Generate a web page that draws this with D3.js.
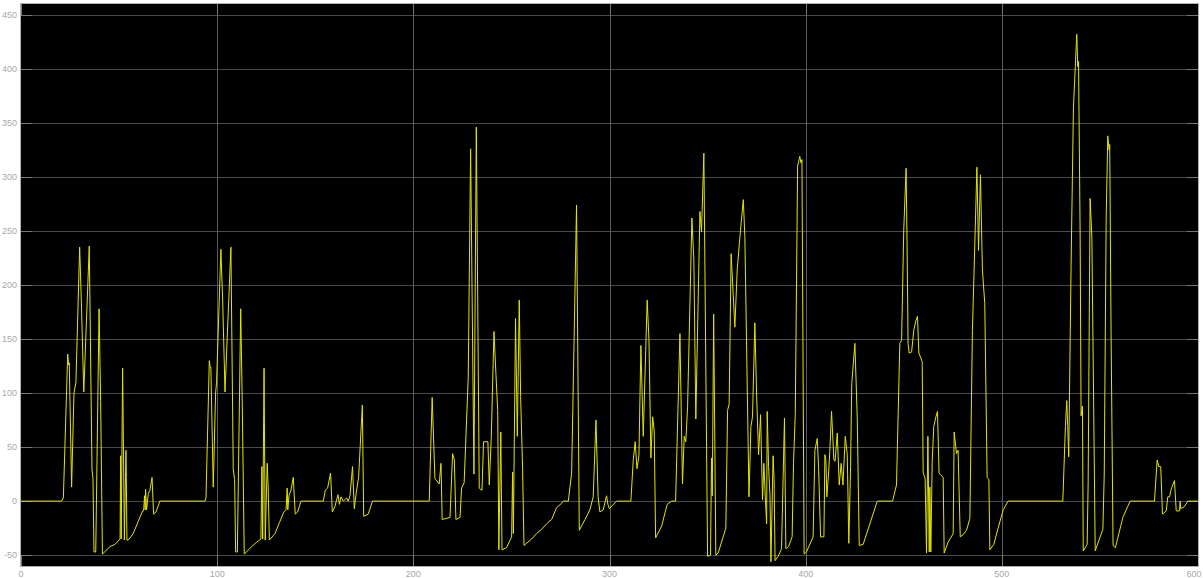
<!DOCTYPE html>
<html>
<head>
<meta charset="utf-8">
<script src="https://cdn.jsdelivr.net/npm/d3@7/dist/d3.min.js"></script>
<style>
  html, body { margin: 0; padding: 0; background: #ffffff; }
  svg { display: block; }
</style>
</head>
<body>
<svg id="chart" width="1203" height="578"></svg>
<script>
// Axis tick values
const xTicks = [0, 100, 200, 300, 400, 500, 600];
const yTicks = [-50, 0, 50, 100, 150, 200, 250, 300, 350, 400, 450];

// Recorded signal: [time, value]
const signal = [
  [0,0],[20.7,0],[21.6,3],[23.8,136],[24.3,126],[24.6,128],[25.8,13],[27,100],[28,110],[29.9,235],[30.7,189],[32,101],[34.8,236],[36.2,29],[36.7,21],[37.2,-47],[38.1,-47],[39.8,178],[40.6,93],[41.5,-49],[45.4,-42],[47.9,-40],[50.5,-35],[50.8,42],[51.1,-35],[51.8,123],[52.7,-36],[53.5,47],[53.7,22],[54,-36],[54.7,-36],[57.2,-30],[59.7,-19],[62,-9],[62.5,-9],[63.0,5],[63.3,-8],[63.5,11],[64,-8],[64.9,7],[65.7,10],[66.8,22],[67.6,-12],[68.8,-10],[70.8,0],
  [93.8,0],[94.3,3],[96,130],[96.4,124],[96.8,124],[98,13],[99.2,100],[99.7,110],[101.9,233],[102.8,186],[104,101],[107,235],[108.2,29],[108.9,20],[109.4,-47],[110.3,-47],[112,178],[112.8,90],[113.8,-49],[117.6,-42],[120.1,-38],[122.3,-35],[122.8,32],[123.2,-35],[123.9,123],[124.5,-36],[125.5,35],[126,13],[126.6,-36],[129.5,-30],[131.7,-20],[134,-10],[135.1,-8],[135.7,12],[136,-8],[136.6,5],[137.6,10],[138.8,22],[139.8,-12],[141,-10],[142.7,0],
  [154.1,0],[155.1,10],[156.3,12],[157.8,26],[158.7,-10],[160,-5],[161.6,6],[162.3,-3],[163.1,4],[164.3,0],[166,3],[166.8,0],[167.7,5],[169,32],[169.9,-7],[170.9,8],[172.1,22],[174,89],[174.7,-14],[177,-12],[179.2,0],
  [208.1,0],[209.6,96],[211,21],[213.2,16],[214.1,35],[214.7,-17],[218.7,-15],[220,44],[220.9,38],[221.7,-17],[223.8,-15],[224.6,12],[225.9,17],[228,115],[229.2,326],[230.9,25],[232.1,346],[233.6,12],[235,10],[235.8,55],[238,55],[238.7,15],[239.7,57],[241.1,157],[242.1,118],[243,84],[243.6,-45],[244.6,64],[245.2,-45],[247.5,-43],[250.1,-33],[250.6,27],[251,-30],[252.1,169],[253,60],[254,186],[254.7,97],[255.7,29],[256.4,-41],[260.3,-35],[262.8,-30],[265.4,-26],[267.9,-21],[270.5,-17],[273,-6],[275.6,-2],[276.4,0],[279,0],[280.7,26],[283.2,274],[284.6,-27],[287.5,-17],[290,-8],[291.7,4],[293.1,75],[294.2,4],[295.1,-10],[296.8,-8],[298.5,5],[299.2,-3],[299.9,-7],[303.6,0],
  [310.9,0],[312.1,38],[313.1,55],[314,30],[315,42],[316,144],[317.2,60],[319.2,186],[320.1,150],[321.1,40],[322,78],[322.8,65],[323.5,-34],[326.6,-23],[329.4,-3],[331.6,0],[333.7,0],[335.9,155],[337.2,16],[338.1,60],[338.9,55],[339.8,87],[342,262],[343,223],[344,76],[346.1,268],[346.9,249],[348.1,322],[350,-51],[351.5,-50],[352,40],[352.4,5],[353.1,173],[354.2,-50],[355.4,-48],[359.3,-25],[360.2,84],[361,90],[362,229],[363.9,161],[365.1,214],[366.5,245],[368.2,279],[369,245],[371.1,4],[372.1,69],[372.9,78],[374.1,165],[375,97],[376,43],[377,80],[378,1],[378.7,35],[379.4,4],[380.1,-21],[380.4,83],[381.1,32],[381.8,6],[382.3,-56],[383.4,42],[383.9,20],[384.4,-55],[386,-51],[387.7,-44],[388.5,21],[389.2,77],[389.9,-44],[391.3,-42],[393.1,-33],[393.8,35],[394.7,81],[395.9,310],[397,319],[397.6,313],[398.1,316],[399.2,-49],
  [400.4,-47],[403.8,-33],[404.7,47],[405.9,58],[406.6,30],[407.6,-33],[409.3,-33],[409.8,43],[410.3,38],[410.8,4],[411.7,26],[412.3,46],[413.2,83],[414.4,38],[415,37],[416.1,63],[417.1,15],[418.1,35],[419,15],[420.2,60],[421.2,43],[422,-39],[422.9,32],[423.5,109],[425.1,146],[426.3,77],[427.3,-41],[429.3,-40],[436.5,0],
  [444.3,0],[446.3,15],[448,146],[448.9,149],[450,251],[451.2,308],[451.7,236],[452.2,146],[452.8,137],[454,138],[455.1,158],[456.2,167],[457,171],[457.7,137],[458.4,134],[459.4,129],[459.9,26],[460.9,21],[461.6,-48],[462.3,60],[463,-47],[463.3,13],[463.8,-47],[464.5,37],[465.3,69],[466.4,78],[467.2,83],[468,26],[468.9,24],[470.1,22],[470.6,-48],[472.6,-38],[475.2,-30],[475.7,64],[476.9,44],[477.7,47],[478.8,-33],[480.3,-31],[482,-27],[483.7,-16],[485,158],[486.2,236],[487.3,309],[488.1,232],[489.1,302],[490.1,214],[491.3,183],[492.5,22],[493.4,20],[493.9,-45],[495.9,-40],[498.1,-25],[500.7,-8],[503.2,0],
  [531.1,0],[532.4,69],[533.1,93],[533.6,69],[534.1,41],[535.3,218],[536.5,364],[538.2,432],[538.7,402],[539.1,407],[539.9,250],[540.4,79],[541.1,88],[541.5,-46],[543.5,-40],[544,17],[545,280],[545.9,244],[547.6,-46],[551.5,-26],[552.2,24],[553.2,263],[554,338],[554.7,325],[555,330],[555.7,153],[556.7,-41],[557.9,-43],[561.7,-15],[565.4,0],
  [577.8,0],[579.2,38],[580,32],[581,32],[581.9,-12],[583.8,-9],[584.6,4],[585.5,4],[586.3,11],[588,19],[588.9,-9],[590.6,-9],[590.9,0],[591.2,-7],[593.1,-5],[594.8,0],[600,0]
];

const svg = d3.select("#chart");
const width = 1203;
const plot = { left: 21, right: 1198, top: 4, bottom: 566 };

const x = d3.scaleLinear().domain([0, 600]).range([plot.left, plot.right]);
const y = d3.scaleLinear().domain([-60, 460]).range([plot.bottom, plot.top]);

// Plot background
svg.append("rect")
  .attr("x", plot.left).attr("y", plot.top)
  .attr("width", plot.right - plot.left).attr("height", plot.bottom - plot.top)
  .attr("fill", "#000000");

// Horizontal grid
svg.append("g").selectAll("line").data(yTicks).join("line")
  .attr("x1", plot.left).attr("x2", plot.right)
  .attr("y1", d => Math.round(y(d)) + 0.5).attr("y2", d => Math.round(y(d)) + 0.5)
  .attr("stroke", "#4a4a4a").attr("stroke-width", 1);

// Vertical grid
svg.append("g").selectAll("line").data(xTicks.slice(1, -1)).join("line")
  .attr("x1", d => Math.round(x(d)) + 0.5).attr("x2", d => Math.round(x(d)) + 0.5)
  .attr("y1", plot.top).attr("y2", plot.bottom)
  .attr("stroke", "#5c5c5c").attr("stroke-width", 1);

// Inner tick marks on the frame
const tickLen = 11;
const ticks = svg.append("g").attr("stroke", "#777777").attr("stroke-width", 1);
yTicks.forEach(v => {
  const yy = Math.round(y(v)) + 0.5;
  ticks.append("line").attr("x1", plot.left).attr("x2", plot.left + tickLen).attr("y1", yy).attr("y2", yy);
  ticks.append("line").attr("x1", plot.right - tickLen).attr("x2", plot.right).attr("y1", yy).attr("y2", yy);
});
xTicks.forEach(v => {
  const xx = Math.round(x(v)) + 0.5;
  ticks.append("line").attr("x1", xx).attr("x2", xx).attr("y1", plot.bottom - tickLen).attr("y2", plot.bottom);
  ticks.append("line").attr("x1", xx).attr("x2", xx).attr("y1", plot.top).attr("y2", plot.top + tickLen);
});

// Signal trace
const line = d3.line().x(d => x(d[0])).y(d => y(d[1]));
svg.append("path")
  .datum(signal)
  .attr("d", line)
  .attr("fill", "none")
  .attr("stroke", "#e4e400")
  .attr("stroke-width", 1)
  .attr("stroke-linejoin", "round");

// Frame
svg.append("rect")
  .attr("x", plot.left - 0.5).attr("y", plot.top - 0.5)
  .attr("width", plot.right - plot.left + 1).attr("height", plot.bottom - plot.top + 1)
  .attr("fill", "none").attr("stroke", "#b0b0b0").attr("stroke-width", 1);

// Axis labels
const labelStyle = sel => sel
  .attr("font-family", "'Liberation Sans', Arial, sans-serif")
  .attr("font-size", 9)
  .attr("fill", "#a8a8a8");

svg.append("g").selectAll("text").data(yTicks).join("text")
  .call(labelStyle)
  .attr("x", plot.left - 4)
  .attr("y", d => y(d) + 3)
  .attr("text-anchor", "end")
  .text(d => d);

// x labels are centred on their ticks; the last one is kept inside the page
svg.append("g").selectAll("text").data(xTicks).join("text")
  .call(labelStyle)
  .attr("x", d => Math.min(x(d), width - 9))
  .attr("y", 577)
  .attr("text-anchor", "middle")
  .text(d => d);
</script>
</body>
</html>
